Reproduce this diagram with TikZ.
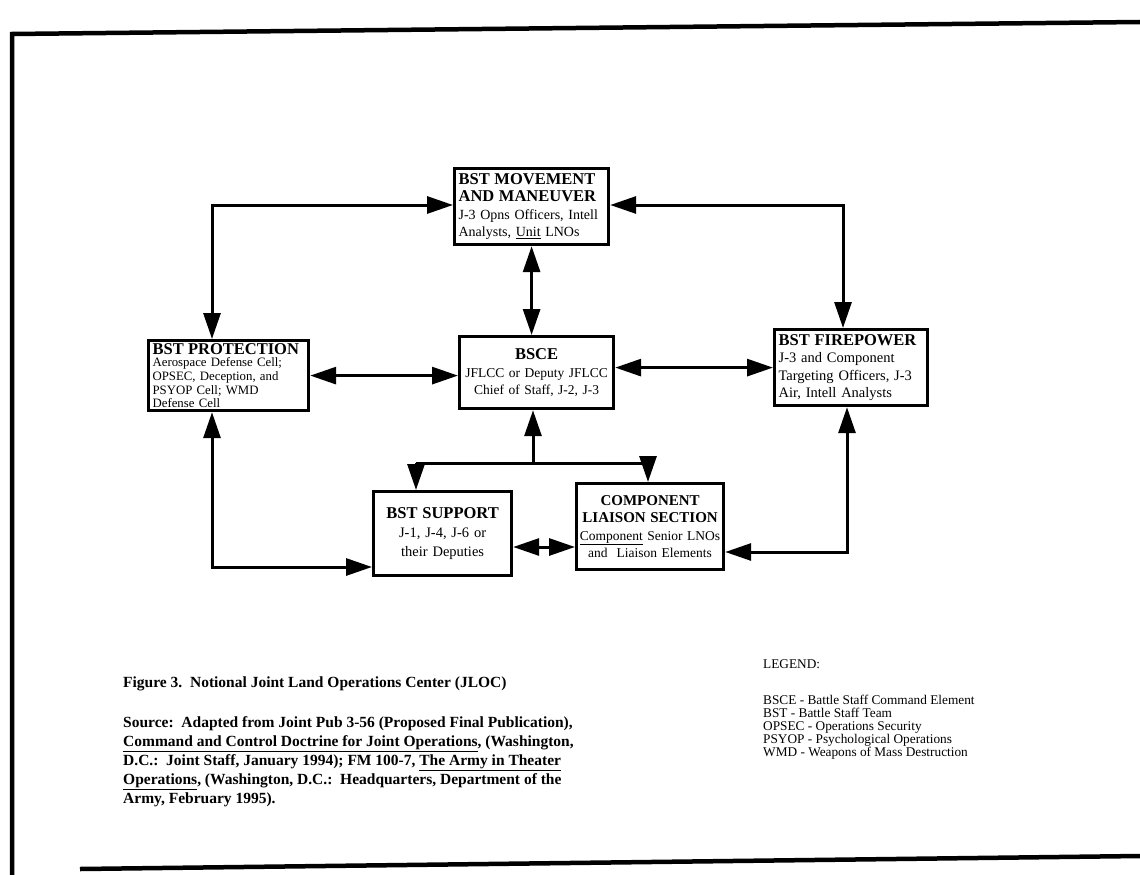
\documentclass[tikz,border=0pt]{standalone}
\usepackage{fontspec}
\setmainfont{Liberation Serif}
\usetikzlibrary{arrows.meta}
\begin{document}
\begin{tikzpicture}[x=1pt,y=-1pt,
  box/.style={draw,line width=3.2pt,inner xsep=5pt,inner ysep=2pt,anchor=north west,
    font=\fontsize{14}{17.5}\selectfont},
  tip/.tip={Triangle[length=26pt,width=17pt]},
  conn/.style={line width=3pt,tip-tip},
  oneway/.style={line width=3pt,-tip},
  plain/.style={line width=3pt},
  frame/.style={line width=4.5pt},
  capt/.style={anchor=north west,align=left,inner sep=0pt,font=\bfseries\fontsize{15.5}{19}\selectfont},
  leg/.style={anchor=north west,align=left,inner sep=0pt,font=\fontsize{13.3}{13}\selectfont}]
\useasboundingbox (0,0) rectangle (1140,875);
\fill[white] (0,0) rectangle (1140,875);
% frame
\draw[frame] (12,875) -- (12,34) -- (1140,22);
\draw[frame] (80,869) -- (1140,856);
\newcommand{\ttl}[1]{{\bfseries\fontsize{16.5}{18}\selectfont #1}}
\newcommand{\ttm}[1]{{\bfseries\fontsize{15}{17}\selectfont #1}}
% boxes
\node[box,minimum width=154pt,minimum height=76pt,text width=146pt,inner xsep=4pt,align=left] (mov) at (453,167)
 {\ttl{BST MOVEMENT}\\\ttl{AND MANEUVER}\\J-3 Opns Officers, Intell\\Analysts, \underline{Unit} LNOs};
\node[box,minimum width=160pt,minimum height=70pt,text width=152pt,inner xsep=4pt,inner ysep=1.5pt,align=left,font=\fontsize{12.8}{13.6}\selectfont] (prot) at (147,339)
 {\ttl{BST PROTECTION}\\[-1pt]Aerospace Defense Cell;\\OPSEC, Deception, and\\PSYOP Cell; WMD\\Defense Cell};
\node[box,minimum width=154pt,minimum height=72pt,text width=146pt,inner xsep=4pt,align=center,font=\fontsize{13.5}{17.5}\selectfont] (bsce) at (458,335)
 {\ttl{BSCE}\\JFLCC or Deputy JFLCC\\Chief of Staff, J-2, J-3};
\node[box,minimum width=153pt,minimum height=76pt,text width=145pt,inner xsep=4pt,align=left,font=\fontsize{14.5}{17.5}\selectfont] (fire) at (773,328)
 {\ttl{BST FIREPOWER}\\J-3 and Component\\Targeting Officers, J-3\\Air, Intell Analysts};
\node[box,minimum width=138pt,minimum height=84pt,text width=130pt,inner xsep=4pt,align=center,font=\fontsize{14.5}{19}\selectfont] (sup) at (372,490)
 {\ttl{BST SUPPORT}\\J-1, J-4, J-6 or\\their Deputies};
\node[box,minimum width=147pt,minimum height=86pt,text width=143pt,inner xsep=2pt,align=center,font=\fontsize{13.5}{17.5}\selectfont] (comp) at (575,482)
 {\ttm{COMPONENT}\\\ttm{LIAISON SECTION}\\\mbox{\underline{Component} Senior LNOs}\\\mbox{and\ \ Liaison Elements}};
% connectors
\coordinate (c1) at (212,205);
\coordinate (c2) at (843,205);
\coordinate (j) at (533,463);
\coordinate (ls) at (416,463);
\coordinate (rs) at (648,463);
\coordinate (c7) at (212,567);
\coordinate (c8) at (540,547);
\coordinate (c9) at (847,552);
\draw[conn] (prot.north -| c1) -- (c1) -- (c1 -| mov.west);
\draw[conn] (c2 -| mov.east) -- (c2) -- (fire.north -| c2);
\draw[conn] (mov.south) -- (mov.south |- bsce.north);
\draw[conn] (prot.east) -- (prot.east -| bsce.west);
\draw[conn] (bsce.east |- fire.west) -- (fire.west);
\draw[oneway] (j) -- (j |- bsce.south);
\draw[plain] (ls) -- (rs);
\draw[oneway] (ls) -- (ls |- sup.north);
\draw[oneway] (rs) -- (rs |- comp.north);
\draw[conn] (prot.south -| c7) -- (c7) -- (c7 -| sup.west);
\draw[conn] (c8 -| sup.east) -- (c8 -| comp.west);
\draw[conn] (c9 -| comp.east) -- (c9) -- (fire.south -| c9);
% caption
\node[capt] (fig) at (123,677) {Figure 3.\ \ Notional Joint Land Operations Center (JLOC)};
\node[capt] (src) at (123,716) {Source:\ \ Adapted from Joint Pub 3-56 (Proposed Final Publication),\\
\underline{Command and Control Doctrine for Joint Operations}, (Washington,\\
D.C.:\ \ Joint Staff, January 1994); FM 100-7, \underline{The Army in Theater}\\
\underline{Operations}, (Washington, D.C.:\ \ Headquarters, Department of the\\
Army, February 1995).};
% legend
\node[leg] (lgd) at (763,659) {LEGEND:};
\node[leg] (lgl) at (763,695) {BSCE - Battle Staff Command Element\\
BST - Battle Staff Team\\
OPSEC - Operations Security\\
PSYOP - Psychological Operations\\
WMD - Weapons of Mass Destruction};
\end{tikzpicture}
\end{document}
